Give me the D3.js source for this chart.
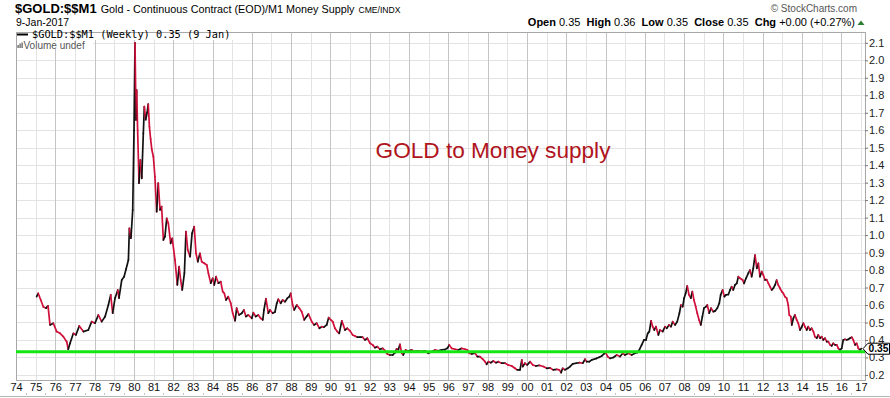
<!DOCTYPE html>
<html>
<head>
<meta charset="utf-8">
<script src="https://cdn.jsdelivr.net/npm/d3@7"></script>
<style>
  body { margin: 0; background: #fff; }
  svg { display: block; font-family: "Liberation Sans", Arial, sans-serif; }
</style>
</head>
<body>
<div id="chart"></div>
<script>
// weekly closes of $GOLD:$$M1 (decimal years)
var weekYears = [
  1975.05, 1975.13, 1975.26, 1975.39, 1975.53, 1975.63, 1975.73, 1975.90,
  1976.07, 1976.24, 1976.41, 1976.58, 1976.66, 1976.75, 1976.92,
  1977.05, 1977.22, 1977.43, 1977.68, 1977.85,
  1978.02, 1978.19, 1978.36, 1978.53, 1978.70, 1978.82, 1978.92,
  1979.04, 1979.18, 1979.24, 1979.38, 1979.50, 1979.60, 1979.72, 1979.77, 1979.85, 1979.94,
  1980.005, 1980.056, 1980.11, 1980.14, 1980.19, 1980.26, 1980.33, 1980.40, 1980.48, 1980.53,
  1980.60, 1980.67, 1980.73, 1980.79, 1980.85, 1980.91, 1980.99,
  1981.07, 1981.16, 1981.24, 1981.33, 1981.41, 1981.50, 1981.58, 1981.67, 1981.75, 1981.87, 1981.95,
  1982.09, 1982.21, 1982.30, 1982.38, 1982.46, 1982.57, 1982.65, 1982.74, 1982.86, 1982.96,
  1983.07, 1983.16, 1983.25, 1983.36, 1983.45, 1983.58, 1983.71, 1983.79, 1983.91,
  1984.01, 1984.09, 1984.18, 1984.30, 1984.42, 1984.52, 1984.60, 1984.69, 1984.80, 1984.93,
  1985.03, 1985.15, 1985.23, 1985.35, 1985.49, 1985.60, 1985.70, 1985.82,
  1986.00, 1986.08, 1986.20, 1986.33, 1986.45, 1986.56, 1986.62, 1986.72, 1986.84, 1986.93,
  1987.06, 1987.18, 1987.27, 1987.35, 1987.47, 1987.57, 1987.69, 1987.81, 1987.91, 1987.98,
  1988.08, 1988.16, 1988.29, 1988.42, 1988.54, 1988.67, 1988.79, 1988.88,
  1989.05, 1989.17, 1989.30, 1989.44, 1989.56, 1989.67, 1989.81, 1989.91,
  1990.02, 1990.12, 1990.23, 1990.35, 1990.45, 1990.58, 1990.66, 1990.74, 1990.86,
  1991.00, 1991.13, 1991.25, 1991.37, 1991.51, 1991.64, 1991.76, 1991.88,
  1992.02, 1992.15, 1992.27, 1992.39, 1992.52, 1992.66, 1992.78, 1992.90,
  1993.03, 1993.17, 1993.29, 1993.37, 1993.46, 1993.54, 1993.63, 1993.71, 1993.83, 1993.96,
  1994.14, 1994.31, 1994.47, 1994.65, 1994.81, 1994.98,
  1995.16, 1995.32, 1995.49, 1995.66, 1995.83, 1995.95,
  1996.05, 1996.17, 1996.34, 1996.51, 1996.68, 1996.85, 1996.97,
  1997.07, 1997.19, 1997.36, 1997.48, 1997.61, 1997.75, 1997.87, 1997.95,
  1998.04, 1998.16, 1998.29, 1998.43, 1998.55, 1998.72, 1998.89,
  1999.05, 1999.23, 1999.39, 1999.51, 1999.65, 1999.74, 1999.79, 1999.90,
  2000.02, 2000.16, 2000.30, 2000.46, 2000.63, 2000.84,
  2001.01, 2001.18, 2001.34, 2001.52, 2001.65, 2001.74, 2001.82, 2001.94,
  2002.08, 2002.19, 2002.33, 2002.50, 2002.67, 2002.84, 2002.96,
  2003.04, 2003.18, 2003.30, 2003.42, 2003.55, 2003.68, 2003.81, 2003.92,
  2004.01, 2004.11, 2004.23, 2004.40, 2004.57, 2004.74, 2004.88, 2004.99,
  2005.16, 2005.33, 2005.50, 2005.62, 2005.72, 2005.84, 2005.96,
  2006.06, 2006.15, 2006.23, 2006.32, 2006.40, 2006.48, 2006.57, 2006.69, 2006.77, 2006.91,
  2007.03, 2007.12, 2007.23, 2007.33, 2007.42, 2007.54, 2007.65, 2007.76, 2007.84, 2007.93,
  2008.00, 2008.08, 2008.16, 2008.25, 2008.34, 2008.42, 2008.50, 2008.59, 2008.67, 2008.76, 2008.85, 2008.93,
  2009.01, 2009.12, 2009.18, 2009.28, 2009.37, 2009.49, 2009.57, 2009.69, 2009.79, 2009.86, 2009.96,
  2010.05, 2010.13, 2010.25, 2010.34, 2010.42, 2010.50, 2010.59, 2010.68, 2010.76, 2010.85, 2010.98,
  2011.05, 2011.15, 2011.27, 2011.35, 2011.44, 2011.52, 2011.61, 2011.70, 2011.78, 2011.86, 2011.95,
  2012.03, 2012.12, 2012.20, 2012.29, 2012.37, 2012.46, 2012.54, 2012.63, 2012.71, 2012.79, 2012.88, 2012.97,
  2013.05, 2013.13, 2013.22, 2013.30, 2013.35, 2013.43, 2013.48, 2013.56, 2013.64, 2013.73, 2013.81, 2013.90, 2013.99,
  2014.07, 2014.15, 2014.24, 2014.32, 2014.41, 2014.49, 2014.58, 2014.66, 2014.75, 2014.83, 2014.92,
  2015.00, 2015.08, 2015.17, 2015.26, 2015.34, 2015.43, 2015.51, 2015.59, 2015.68, 2015.77, 2015.85, 2015.93,
  2016.02, 2016.10, 2016.19, 2016.27, 2016.36, 2016.44, 2016.53, 2016.61, 2016.70, 2016.78, 2016.87, 2016.95,
  2017.02
];

var ratioValues = [
  0.648, 0.667, 0.629, 0.590, 0.582, 0.595, 0.486, 0.496,
  0.448, 0.438, 0.419, 0.390, 0.347, 0.381, 0.438,
  0.429, 0.480, 0.448, 0.457, 0.505,
  0.496, 0.543, 0.505, 0.533, 0.600, 0.658, 0.553,
  0.639, 0.686, 0.639, 0.743, 0.762, 0.805, 0.858, 1.039, 0.982, 1.144,
  1.600, 2.100, 1.659, 1.830, 1.600, 1.297, 1.430, 1.325, 1.583, 1.735,
  1.660, 1.700, 1.750, 1.620, 1.550, 1.490, 1.450,
  1.334, 1.134, 1.297, 1.144, 1.163, 0.972, 0.991, 1.096, 1.068, 0.953, 0.982,
  0.858, 0.715, 0.820, 0.743, 0.686, 0.782, 1.020, 0.915, 0.877, 1.010,
  1.048, 0.896, 0.848, 0.896, 0.848, 0.839, 0.829, 0.782, 0.725,
  0.753, 0.715, 0.762, 0.725, 0.734, 0.677, 0.667, 0.629, 0.648, 0.610,
  0.553, 0.510, 0.582, 0.543, 0.553, 0.572, 0.534, 0.543,
  0.524, 0.556, 0.534, 0.543, 0.524, 0.515, 0.572, 0.636, 0.553, 0.572,
  0.553, 0.560, 0.610, 0.633, 0.610, 0.629, 0.619, 0.639, 0.648, 0.667,
  0.600, 0.572, 0.600, 0.582, 0.562, 0.515, 0.534, 0.549,
  0.505, 0.486, 0.496, 0.467, 0.476, 0.473, 0.486, 0.528,
  0.515, 0.505, 0.467, 0.448, 0.438, 0.509, 0.486, 0.457, 0.467,
  0.452, 0.429, 0.423, 0.416, 0.416, 0.416, 0.400, 0.410,
  0.381, 0.372, 0.356, 0.362, 0.347, 0.352, 0.339, 0.320,
  0.314, 0.314, 0.328, 0.349, 0.345, 0.375, 0.324, 0.314, 0.343, 0.337,
  0.343, 0.333, 0.338, 0.333, 0.338, 0.324,
  0.333, 0.343, 0.338, 0.343, 0.345, 0.352,
  0.372, 0.352, 0.347, 0.343, 0.352, 0.347, 0.343,
  0.324, 0.320, 0.324, 0.305, 0.305, 0.290, 0.276, 0.261,
  0.276, 0.270, 0.280, 0.270, 0.276, 0.267, 0.267,
  0.257, 0.251, 0.238, 0.229, 0.229, 0.286, 0.248, 0.267,
  0.257, 0.276, 0.257, 0.251, 0.255, 0.248,
  0.238, 0.240, 0.229, 0.232, 0.229, 0.213, 0.238, 0.229,
  0.238, 0.248, 0.263, 0.267, 0.270, 0.267, 0.290,
  0.276, 0.276, 0.286, 0.290, 0.295, 0.301, 0.309, 0.320,
  0.328, 0.305, 0.295, 0.300, 0.314, 0.305, 0.324, 0.314,
  0.324, 0.314, 0.324, 0.328, 0.343, 0.372, 0.400,
  0.400, 0.438, 0.448, 0.510, 0.476, 0.457, 0.476, 0.429, 0.457, 0.448,
  0.476, 0.467, 0.486, 0.476, 0.505, 0.486, 0.505, 0.553, 0.600, 0.591,
  0.639, 0.667, 0.709, 0.658, 0.639, 0.677, 0.629, 0.591, 0.553, 0.515, 0.486, 0.534,
  0.582, 0.591, 0.600, 0.553, 0.582, 0.562, 0.565, 0.582, 0.610, 0.658, 0.686,
  0.648, 0.658, 0.660, 0.686, 0.705, 0.686, 0.715, 0.724, 0.762, 0.753, 0.743,
  0.724, 0.753, 0.782, 0.800, 0.762, 0.810, 0.886, 0.810, 0.839, 0.762, 0.791,
  0.772, 0.743, 0.745, 0.724, 0.705, 0.686, 0.696, 0.715, 0.743, 0.715, 0.696, 0.677,
  0.667, 0.648, 0.639, 0.600, 0.543, 0.534, 0.486, 0.524, 0.543, 0.515, 0.496, 0.457, 0.476,
  0.496, 0.476, 0.457, 0.476, 0.457, 0.467, 0.448, 0.419, 0.410, 0.429, 0.410,
  0.419, 0.400, 0.410, 0.390, 0.390, 0.372, 0.366, 0.381, 0.372, 0.372, 0.352, 0.343,
  0.352, 0.400, 0.404, 0.400, 0.404, 0.410, 0.416, 0.400, 0.372, 0.381, 0.352, 0.343,
  0.350
];

var yTicks = [0.2, 0.3, 0.4, 0.5, 0.6, 0.7, 0.8, 0.9, 1.0, 1.1, 1.2, 1.3, 1.4, 1.5, 1.6, 1.7, 1.8, 1.9, 2.0, 2.1];
var xTickYears = [1974, 1975, 1976, 1977, 1978, 1979, 1980, 1981, 1982, 1983, 1984, 1985, 1986, 1987, 1988,
  1989, 1990, 1991, 1992, 1993, 1994, 1995, 1996, 1997, 1998, 1999, 2000, 2001, 2002, 2003, 2004, 2005,
  2006, 2007, 2008, 2009, 2010, 2011, 2012, 2013, 2014, 2015, 2016, 2017];
var xTickLabels = ["74", "75", "76", "77", "78", "79", "80", "81", "82", "83", "84", "85", "86", "87", "88",
  "89", "90", "91", "92", "93", "94", "95", "96", "97", "98", "99", "00", "01", "02", "03", "04", "05",
  "06", "07", "08", "09", "10", "11", "12", "13", "14", "15", "16", "17"];

var supportLevel = 0.333;
var lastClose = 0.35;
var quoteLabels = ["Open", "High", "Low", "Close", "Chg"];
var quoteValues = ["0.35", "0.36", "0.35", "0.35", "+0.00 (+0.27%)"];

var svgWidth = 890;
var svgHeight = 398;

var margin = {
  top: 32,
  right: 25,
  bottom: 18,
  left: 16
};

var width = svgWidth - margin.left - margin.right;
var height = svgHeight - margin.top - margin.bottom;

var svg = d3
  .select("#chart")
  .append("svg")
  .attr("width", svgWidth)
  .attr("height", svgHeight);

var chartGroup = svg.append("g")
  .attr("transform", `translate(${margin.left}, ${margin.top})`);

// scales
var xScale = d3.scaleLinear()
  .domain([1974, 2017.206])
  .range([0, width]);

var yScale = d3.scaleLinear()
  .domain([0.171, 2.162])
  .range([height, 0]);

// grid lines
chartGroup.append("g")
  .selectAll("line")
  .data(yTicks)
  .enter()
  .append("line")
  .attr("x1", 0)
  .attr("x2", width)
  .attr("y1", d => Math.round(yScale(d)) + 0.5)
  .attr("y2", d => Math.round(yScale(d)) + 0.5)
  .attr("stroke", "#e3e3e3");

chartGroup.append("g")
  .selectAll("line")
  .data(xTickYears)
  .enter()
  .append("line")
  .attr("x1", d => Math.round(xScale(d)) + 0.5)
  .attr("x2", d => Math.round(xScale(d)) + 0.5)
  .attr("y1", 0)
  .attr("y2", height)
  .attr("stroke", d => d % 2 === 0 ? "#c4c4c4" : "#e3e3e3");

// plot frame
chartGroup.append("rect")
  .attr("x", 0.5)
  .attr("y", 0.5)
  .attr("width", width)
  .attr("height", height)
  .attr("fill", "none")
  .attr("stroke", "#a8a8a8");

// y axis on the right
var rightAxis = d3.axisRight(yScale)
  .tickValues(yTicks)
  .tickSize(3)
  .tickPadding(1)
  .tickFormat(d3.format(".1f"));

var yAxis = chartGroup.append("g")
  .attr("transform", `translate(${width}, 0)`)
  .call(rightAxis);
yAxis.select(".domain").remove();
yAxis.selectAll("line").attr("stroke", "#777");
yAxis.selectAll("text")
  .attr("font-family", "Liberation Sans, Arial, sans-serif")
  .attr("font-size", 11)
  .attr("fill", "#222");

// x axis year labels
var bottomAxis = d3.axisBottom(xScale)
  .tickValues(xTickYears)
  .tickSize(0)
  .tickPadding(3)
  .tickFormat((d, i) => xTickLabels[i]);

var xAxis = chartGroup.append("g")
  .attr("transform", `translate(0, ${height})`)
  .call(bottomAxis);
xAxis.select(".domain").remove();
xAxis.selectAll("text")
  .attr("font-family", "Liberation Sans, Arial, sans-serif")
  .attr("font-size", 11)
  .attr("fill", "#111");

// little mid-year marks under the labels
chartGroup.append("g")
  .selectAll("line")
  .data(xTickYears.slice(0, -1))
  .enter()
  .append("line")
  .attr("x1", d => Math.round(xScale(d + 0.5)) + 0.5)
  .attr("x2", d => Math.round(xScale(d + 0.5)) + 0.5)
  .attr("y1", height + 13)
  .attr("y2", height + 15)
  .attr("stroke", "#c8c8c8");

// bottom rule across the page
svg.append("line")
  .attr("x1", 0)
  .attr("x2", svgWidth)
  .attr("y1", svgHeight - 1.5)
  .attr("y2", svgHeight - 1.5)
  .attr("stroke", "#b5b5b5");

// price line, black on up weeks, red on down weeks
var points = weekYears.map((yr, i) => ({year: yr, value: ratioValues[i]}));

chartGroup.append("g")
  .selectAll("line")
  .data(d3.pairs(points))
  .enter()
  .append("line")
  .attr("x1", d => xScale(d[0].year))
  .attr("y1", d => yScale(d[0].value))
  .attr("x2", d => xScale(d[1].year))
  .attr("y2", d => yScale(d[1].value))
  .attr("stroke", d => d[1].value >= d[0].value ? "#111" : "#d0103a")
  .attr("stroke-width", 1.7)
  .attr("stroke-linecap", "round");

// green support line
chartGroup.append("line")
  .attr("x1", 0)
  .attr("x2", width)
  .attr("y1", yScale(supportLevel))
  .attr("y2", yScale(supportLevel))
  .attr("stroke", "#14e614")
  .attr("stroke-width", 3);

// last value marker
var yLast = yScale(lastClose);
chartGroup.append("path")
  .attr("d", `M${width - 2},${yLast} L${width + 3},${yLast - 5.5} L${width + 24.5},${yLast - 5.5} L${width + 24.5},${yLast + 5.5} L${width + 3},${yLast + 5.5} Z`)
  .attr("fill", "#fff")
  .attr("stroke", "#000");

chartGroup.append("text")
  .attr("x", width + 3.5)
  .attr("y", yLast + 3.7)
  .attr("font-size", 10.3)
  .attr("font-weight", "bold")
  .attr("fill", "#000")
  .text(lastClose.toFixed(2));

// annotation
chartGroup.append("text")
  .attr("x", xScale(1992.3))
  .attr("y", yScale(1.44))
  .attr("font-size", 22.6)
  .attr("fill", "#b0141c")
  .text("GOLD to Money supply");

// legend in the top left corner
var legend = chartGroup.append("g");
legend.append("rect")
  .attr("x", 1)
  .attr("y", 1)
  .attr("width", 216)
  .attr("height", 7)
  .attr("fill", "#fff");
legend.append("line")
  .attr("x1", 1)
  .attr("x2", 12)
  .attr("y1", 2.5)
  .attr("y2", 2.5)
  .attr("stroke", "#000")
  .attr("stroke-width", 2);
legend.append("text")
  .attr("x", 16)
  .attr("y", 6)
  .attr("font-family", "DejaVu Sans Mono, Liberation Mono, monospace")
  .attr("font-size", 10.3)
  .attr("fill", "#000")
  .text("$GOLD:$$M1 (Weekly) 0.35 (9 Jan)");

legend.append("rect")
  .attr("x", 1)
  .attr("y", 9)
  .attr("width", 76)
  .attr("height", 8)
  .attr("fill", "#fff");
[[1, 13, 3], [3, 11.5, 4.5], [5, 10.5, 5.5]].forEach(function(b) {
  legend.append("rect")
    .attr("x", b[0] + 0.5)
    .attr("y", b[1])
    .attr("width", 1.2)
    .attr("height", b[2])
    .attr("fill", "#555");
});
legend.append("text")
  .attr("x", 7.5)
  .attr("y", 16.5)
  .attr("font-size", 10)
  .attr("fill", "#555")
  .text("Volume undef");

// page header
var title = svg.append("text")
  .attr("x", 15)
  .attr("y", 13)
  .attr("fill", "#000");
title.append("tspan")
  .attr("font-size", 13)
  .attr("font-weight", "bold")
  .text("$GOLD:$$M1");
title.append("tspan")
  .attr("dx", 4)
  .attr("font-size", 10.8)
  .text("Gold - Continuous Contract (EOD)/M1 Money Supply");
title.append("tspan")
  .attr("dx", 4)
  .attr("font-size", 8.6)
  .text("CME/INDX");

svg.append("text")
  .attr("x", 16)
  .attr("y", 26)
  .attr("font-size", 10.5)
  .attr("fill", "#000")
  .text("9-Jan-2017");

svg.append("text")
  .attr("x", 857)
  .attr("y", 12)
  .attr("text-anchor", "end")
  .attr("font-size", 10)
  .attr("fill", "#555")
  .text("\u00A9 StockCharts.com");

var quote = svg.append("text")
  .attr("x", 855)
  .attr("y", 26)
  .attr("text-anchor", "end")
  .attr("font-size", 11)
  .attr("fill", "#000");
quoteLabels.forEach(function(lbl, i) {
  quote.append("tspan")
    .attr("font-weight", "bold")
    .text((i > 0 ? "\u00A0\u00A0" : "") + lbl + " ");
  quote.append("tspan")
    .text(quoteValues[i]);
});

svg.append("path")
  .attr("d", "M857.5,25 L861,20.5 L864.5,25 Z")
  .attr("fill", "#2e7d32");
</script>
</body>
</html>
